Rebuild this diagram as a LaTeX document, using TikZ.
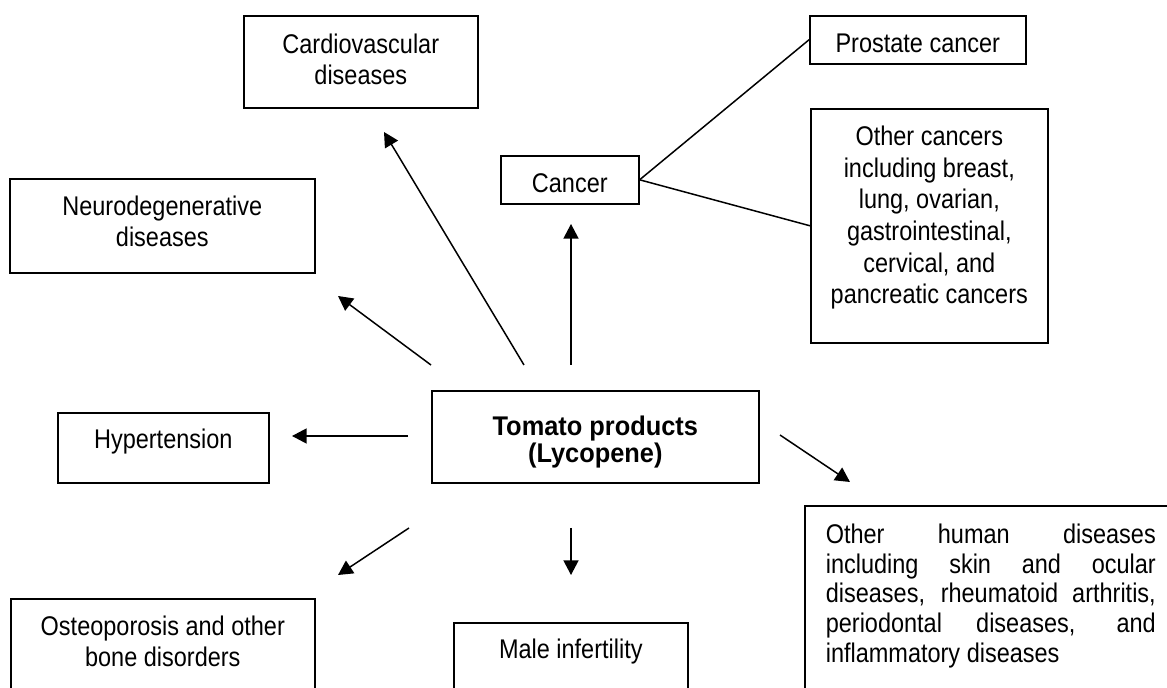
\documentclass[tikz,border=0pt]{standalone}
\usepackage{fontspec}
\setmainfont{Liberation Sans}[FakeStretch=0.87]
\newfontfamily\headfont{Liberation Sans}[FakeStretch=0.94]
\usetikzlibrary{arrows.meta}

% box content: width, height, first-baseline offset, text (centred, top aligned)
\newcommand{\boxtxt}[4]{\parbox[c][#2][t]{#1}{\centering\rule{0pt}{#3}#4}}

\begin{document}
\begin{tikzpicture}[x=0.5pt,y=-0.5pt,
  box/.style={draw, line width=0.8pt, inner sep=0pt, anchor=north west,
    font=\fontsize{13.5pt}{15.5pt}\selectfont},
  arr/.style={line width=0.75pt, -{Triangle[length=7.3pt,width=7.5pt]}},
  link/.style={line width=0.75pt}]
\useasboundingbox (0,0) rectangle (1167,688);
\fill[white] (0,0) rectangle (1167,688);
\clip (0,0) rectangle (1167,688);

% disease boxes
\node[box] (cardio) at (243,15)
  {\boxtxt{117pt}{46pt}{19pt}{Cardiovascular\\diseases}};
\node[box] (prostate) at (809,15)
  {\boxtxt{108pt}{24pt}{18.5pt}{Prostate cancer}};
\node[box] (cancer) at (500,155)
  {\boxtxt{69pt}{24pt}{18.5pt}{Cancer}};
\node[box, font=\fontsize{13.5pt}{15.8pt}\selectfont] (othercan) at (810,108)
  {\boxtxt{118.5pt}{117pt}{18.5pt}{Other cancers\\including breast,\\lung, ovarian,\\gastrointestinal,\\cervical, and\\pancreatic cancers}};
\node[box] (neuro) at (9,178)
  {\boxtxt{152.5pt}{47pt}{18.5pt}{Neurodegenerative\\diseases}};
\node[box] (hyper) at (57,412)
  {\boxtxt{105.5pt}{35pt}{18pt}{Hypertension}};
\node[box, font=\fontsize{13.5pt}{13.5pt}\headfont\bfseries] (tomato) at (431,390)
  {\boxtxt{163.5pt}{46pt}{22.5pt}{Tomato products\\(Lycopene)}};
\node[box] (osteo) at (10,598)
  {\boxtxt{152pt}{55pt}{18.5pt}{Osteoporosis and other\\bone disorders}};
\node[box] (male) at (453,622)
  {\boxtxt{117pt}{45pt}{18pt}{Male infertility}};
\node[box, font=\fontsize{13.5pt}{14.8pt}\selectfont] (otherhum) at (804,505)
  {\parbox[c][100pt][t]{190pt}{\leftskip=10.5pt\parindent=0pt
    \rule{0pt}{19pt}\makebox[165pt][s]{Other human diseases}\\
    \makebox[165pt][s]{including skin and ocular}\\
    \makebox[165pt][s]{diseases, rheumatoid arthritis,}\\
    \makebox[165pt][s]{periodontal diseases, and}\\
    inflammatory diseases}};

% arrow end points around the central box
\coordinate (cvS) at (524,365);  \coordinate (cvE) at (384,132);
\coordinate (ndS) at (431,365);  \coordinate (ndE) at (338,296);
\coordinate (caS) at (571,365);  \coordinate (caE) at (571,224);
\coordinate (hyS) at (408,436);  \coordinate (hyE) at (292,436);
\coordinate (osS) at (409,528);  \coordinate (osE) at (338,575);
\coordinate (miS) at (571,528);  \coordinate (miE) at (571,575);
\coordinate (ohS) at (780,435);  \coordinate (ohE) at (850,482);

\draw[arr] (cvS) -- (cvE);
\draw[arr] (ndS) -- (ndE);
\draw[arr] (caS) -- (caE);
\draw[arr] (hyS) -- (hyE);
\draw[arr] (osS) -- (osE);
\draw[arr] (miS) -- (miE);
\draw[arr] (ohS) -- (ohE);

% cancer subtypes
\draw[link] (cancer.east) -- (prostate.west);
\draw[link] (cancer.east) -- (othercan.west);
\end{tikzpicture}
\end{document}
